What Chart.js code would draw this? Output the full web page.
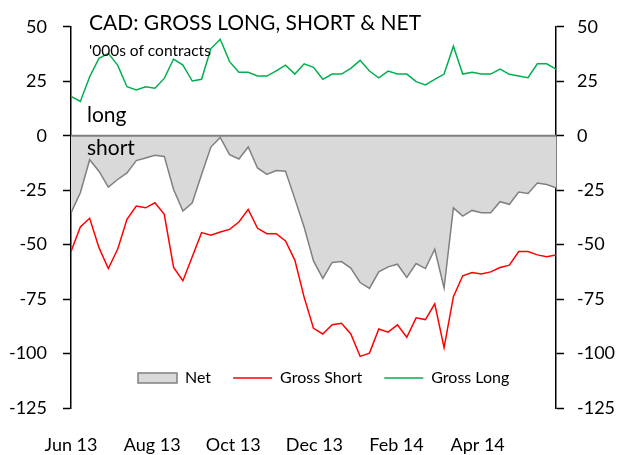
<!DOCTYPE html>
<html>
<head>
<meta charset="utf-8">
<script src="https://cdn.jsdelivr.net/npm/chart.js@4.4.1/dist/chart.umd.min.js"></script>
<style>
    html, body { margin: 0; padding: 0; background: #fff; }
</style>
</head>
<body>
<canvas id="chart" width="631" height="455"></canvas>
<script>
// weekly CFTC positioning, '000s of contracts (Jun 2013 - May 2014)
const grossLong = [
    18, 15.7, 27.1, 35.5, 37.8, 32.4, 22.5, 21, 22.5, 21.8,
    26.3, 35.2, 32.4, 25.1, 25.9, 40, 44.3, 34, 29.1, 29.1,
    27.4, 27.4, 29.8, 32.4, 28.3, 33, 31.4, 25.9, 28.3, 28.3,
    30.9, 34.6, 29.7, 26.6, 29.7, 28.3, 28.3, 24.8, 23.3, 25.9,
    28.3, 41.1, 28.3, 29.1, 28.3, 28.3, 30.6, 28.2, 27.4, 26.6,
    33, 33, 30.6,
];
const grossShort = [
    -53.2, -41.9, -37.9, -51.4, -61, -52.1, -38.4, -32.3, -33.1, -30.8,
    -36.1, -60.5, -66.6, -55.6, -44.5, -45.7, -44.2, -43, -39.6, -33.8,
    -42.5, -45, -45, -48.3, -57.1, -74.2, -88.4, -91, -86.8, -86.1,
    -91, -101.3, -99.8, -88.7, -90.2, -86.8, -92.5, -83.6, -84.4, -77.2,
    -97.3, -73.9, -64.3, -62.8, -63.5, -62.5, -60.5, -59.4, -53.2, -53.2,
    -54.7, -55.6, -54.7,
];
const net = [
    -35.4, -26.2, -11, -16.3, -23.6, -20.1, -17.1, -11.4, -10.2, -9,
    -9.5, -24.7, -34.6, -30.8, -17.8, -5.2, -0.8, -8.7, -10.7, -5.2,
    -14.8, -17.8, -16, -16.3, -29, -42, -57.5, -65.5, -58.2, -57.8,
    -60.8, -67.4, -70.1, -62.5, -60.2, -59, -65.1, -58.7, -61, -52.1,
    -69.9, -33.1, -36.9, -34.3, -35.4, -35.4, -30.3, -31.5, -25.9, -26.5,
    -21.7, -22.4, -23.9,
];
// month labels and where they sit, in weeks from the first report
const tickLabels = ["Jun 13", "Aug 13", "Oct 13", "Dec 13", "Feb 14", "Apr 14"];
const tickWeeks = [0, 8.7, 17.4, 26.1, 34.9, 43.6];

const FONT = "Lato";

const toPoints = (arr) => arr.map((v, i) => ({ x: i, y: v }));

function valueAxis(position, pad, width) {
    return {
        position: position,
        min: -125,
        max: 50,
        ticks: {
            stepSize: 25,
            padding: pad,
            color: "#000",
            font: { family: FONT, size: 18 },
        },
        grid: {
            drawOnChartArea: false,
            drawTicks: true,
            tickLength: 8,
            tickColor: "#000",
            tickWidth: 1.5,
        },
        border: { display: true, color: "#000", width: 1.5 },
        afterFit: (scale) => {
            scale.width = width;
        },
    };
}

// texts inside the plot, zero line and legend placement
const overlay = {
    id: "overlay",
    afterLayout(chart) {
        const lg = chart.legend;
        lg.left = 116;
        lg.top = 348;
        lg.bottom = 395;
        lg.height = 47;
    },
    afterDatasetsDraw(chart) {
        const { ctx, chartArea } = chart;
        const y0 = chart.scales.y.getPixelForValue(0);
        ctx.save();
        ctx.strokeStyle = "#808080";
        ctx.lineWidth = 2;
        ctx.beginPath();
        ctx.moveTo(chartArea.left, y0);
        ctx.lineTo(chartArea.right, y0);
        ctx.stroke();
        ctx.restore();
    },
    afterDraw(chart) {
        const ctx = chart.ctx;
        ctx.save();
        ctx.fillStyle = "#000";
        ctx.textAlign = "left";
        ctx.textBaseline = "alphabetic";
        ctx.font = "21px " + FONT;
        ctx.fillText("CAD: GROSS LONG, SHORT & NET", 89, 30);
        ctx.font = "15.5px " + FONT;
        ctx.fillText("'000s of contracts", 89, 56);
        ctx.font = "21px " + FONT;
        ctx.fillText("long", 87, 122);
        ctx.fillText("short", 87, 155);
        ctx.restore();
    },
};

new Chart(document.getElementById("chart"), {
    type: "line",
    data: {
        datasets: [
            {
                label: "Net",
                data: toPoints(net),
                borderColor: "#808080",
                backgroundColor: "#d9d9d9",
                borderWidth: 1.5,
                fill: "origin",
                pointStyle: "rect",
            },
            {
                label: "Gross Short",
                data: toPoints(grossShort),
                borderColor: "#ff0000",
                backgroundColor: "#ff0000",
                borderWidth: 1.5,
                fill: false,
                pointStyle: "line",
            },
            {
                label: "Gross Long",
                data: toPoints(grossLong),
                borderColor: "#00b050",
                backgroundColor: "#00b050",
                borderWidth: 1.5,
                fill: false,
                pointStyle: "line",
            },
        ],
    },
    options: {
        responsive: false,
        animation: false,
        layout: { padding: { top: 24, left: 0, right: 0, bottom: 0 } },
        elements: {
            point: { radius: 0, hoverRadius: 0 },
            line: { tension: 0 },
        },
        plugins: {
            tooltip: { enabled: false },
            legend: {
                position: "top",
                align: "start",
                maxHeight: 1,
                labels: {
                    usePointStyle: true,
                    pointStyleWidth: 39,
                    boxHeight: 10,
                    padding: 22,
                    color: "#000",
                    font: { family: FONT, size: 16 },
                },
            },
        },
        scales: {
            x: {
                type: "linear",
                min: 0,
                max: grossLong.length - 1,
                border: { display: false },
                grid: { display: false, drawTicks: false },
                afterBuildTicks: (scale) => {
                    scale.ticks = tickWeeks.map((w) => ({ value: w }));
                },
                ticks: {
                    autoSkip: false,
                    maxRotation: 0,
                    padding: 26,
                    color: "#000",
                    font: { family: FONT, size: 18 },
                    callback: (value, index) => tickLabels[index],
                },
                afterFit: (scale) => {
                    scale.height = 47;
                },
            },
            y: valueAxis("left", 16, 71),
            y2: valueAxis("right", 13, 75),
        },
    },
    plugins: [overlay],
});
</script>
</body>
</html>
